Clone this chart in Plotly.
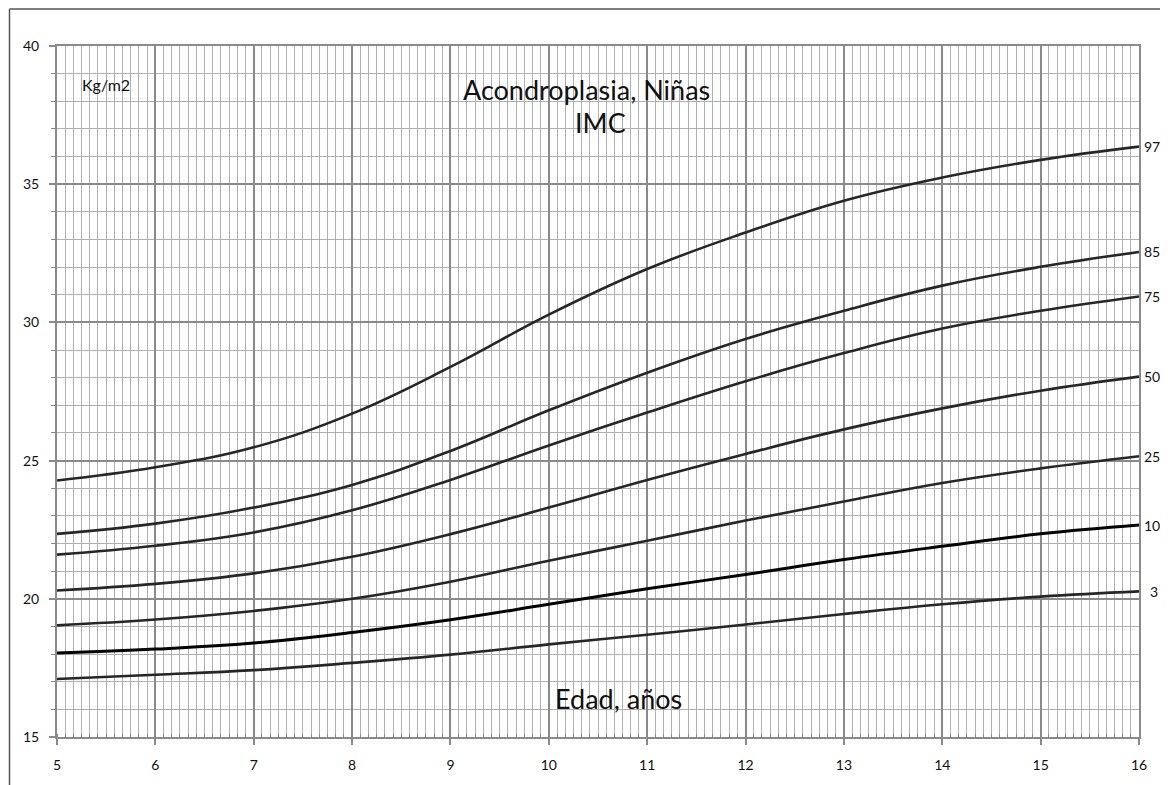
import plotly.graph_objects as go

ages = [5, 6, 7, 8, 9, 10, 11, 12, 13, 14, 15, 16]
p97 = [24.28, 24.76, 25.48, 26.70, 28.39, 30.28, 31.93, 33.25, 34.40, 35.24, 35.88, 36.36]
p85 = [22.35, 22.72, 23.30, 24.12, 25.35, 26.82, 28.18, 29.40, 30.42, 31.33, 32.01, 32.55]
p75 = [21.60, 21.92, 22.40, 23.20, 24.30, 25.55, 26.74, 27.87, 28.89, 29.78, 30.42, 30.94]
p50 = [20.30, 20.54, 20.92, 21.52, 22.34, 23.30, 24.30, 25.24, 26.13, 26.89, 27.53, 28.04]
p25 = [19.04, 19.25, 19.56, 20.00, 20.62, 21.38, 22.10, 22.83, 23.52, 24.19, 24.72, 25.16]
p10 = [18.04, 18.18, 18.40, 18.78, 19.24, 19.80, 20.36, 20.88, 21.42, 21.90, 22.35, 22.67]
p3 = [17.10, 17.25, 17.42, 17.68, 17.98, 18.35, 18.70, 19.07, 19.45, 19.80, 20.08, 20.27]

series = [("97", p97), ("85", p85), ("75", p75), ("50", p50), ("25", p25), ("10", p10), ("3", p3)]
x_ticks = list(range(5, 17))
y_ticks = [15, 20, 25, 30, 35, 40]

FONT = "Lato"
fig = go.Figure()
for name, vals in series:
    heavy = name == "10"
    fig.add_trace(go.Scatter(
        x=ages, y=vals, mode="lines", name=name,
        line=dict(color="#000000" if heavy else "#262626", width=3 if heavy else 2.6,
                  shape="spline", smoothing=1.2),
        showlegend=False, hoverinfo="skip"))
    fig.add_annotation(x=16, y=vals[-1], text=name, showarrow=False,
                       xanchor="left", yanchor="middle", xshift=3 if name != "3" else 9,
                       font=dict(family=FONT, size=14, color="#111"))

fig.update_xaxes(range=[5, 16], tickvals=x_ticks, ticktext=[str(v) for v in x_ticks],
                 showgrid=True, gridcolor="#8a8a8a", gridwidth=2,
                 showline=True, linecolor="#8a8a8a", linewidth=2, mirror=True,
                 ticks="outside", ticklen=6, tickwidth=2, tickcolor="#8a8a8a",
                 tickfont=dict(family=FONT, size=14, color="#111"), ticklabelstandoff=8,
                 zeroline=False,
                 minor=dict(dtick=1/12, showgrid=True, gridcolor="#b0b0b0", gridwidth=1,
                            ticks="inside", ticklen=3, tickwidth=1, tickcolor="#8a8a8a"))
fig.update_yaxes(range=[15, 40], tickvals=y_ticks, ticktext=[str(v) for v in y_ticks],
                 showgrid=True, gridcolor="#8a8a8a", gridwidth=2,
                 showline=True, linecolor="#8a8a8a", linewidth=2, mirror=True,
                 ticks="outside", ticklen=6, tickwidth=2, tickcolor="#8a8a8a",
                 tickfont=dict(family=FONT, size=14, color="#111"), ticklabelstandoff=7,
                 zeroline=False,
                 minor=dict(dtick=1, showgrid=True, gridcolor="#b0b0b0", gridwidth=1,
                            ticks="outside", ticklen=4, tickwidth=1, tickcolor="#8a8a8a"))

fig.add_annotation(xref="paper", yref="paper", x=0.489, y=0.937, text="Acondroplasia, Niñas",
                   showarrow=False, xanchor="center", yanchor="middle",
                   font=dict(family=FONT, size=27, color="#111"))
fig.add_annotation(xref="paper", yref="paper", x=0.502, y=0.889, text="IMC",
                   showarrow=False, xanchor="center", yanchor="middle",
                   font=dict(family=FONT, size=27, color="#111"))
fig.add_annotation(xref="paper", yref="paper", x=0.021, y=0.945, text="Kg/m2",
                   showarrow=False, xanchor="left", yanchor="middle",
                   font=dict(family=FONT, size=16, color="#111"))
fig.add_annotation(xref="paper", yref="paper", x=0.519, y=0.056, text="Edad, años",
                   showarrow=False, xanchor="center", yanchor="middle",
                   font=dict(family=FONT, size=27, color="#111"))

# outer chart frame (left and top edges visible)
fx = (1.5 - 49) / 1082
fy = (731 - 0.8) / 693
fig.add_shape(type="line", xref="paper", yref="paper", x0=fx, x1=fx, y0=fy, y1=-0.2,
              line=dict(color="#555555", width=1.5))
fig.add_shape(type="line", xref="paper", yref="paper", x0=fx, x1=1.2, y0=fy, y1=fy,
              line=dict(color="#555555", width=1.5))

fig.update_layout(width=1160, height=777, margin=dict(l=49, r=29, t=38, b=46),
                  plot_bgcolor="white", paper_bgcolor="white")
fig.write_html("out.html")
